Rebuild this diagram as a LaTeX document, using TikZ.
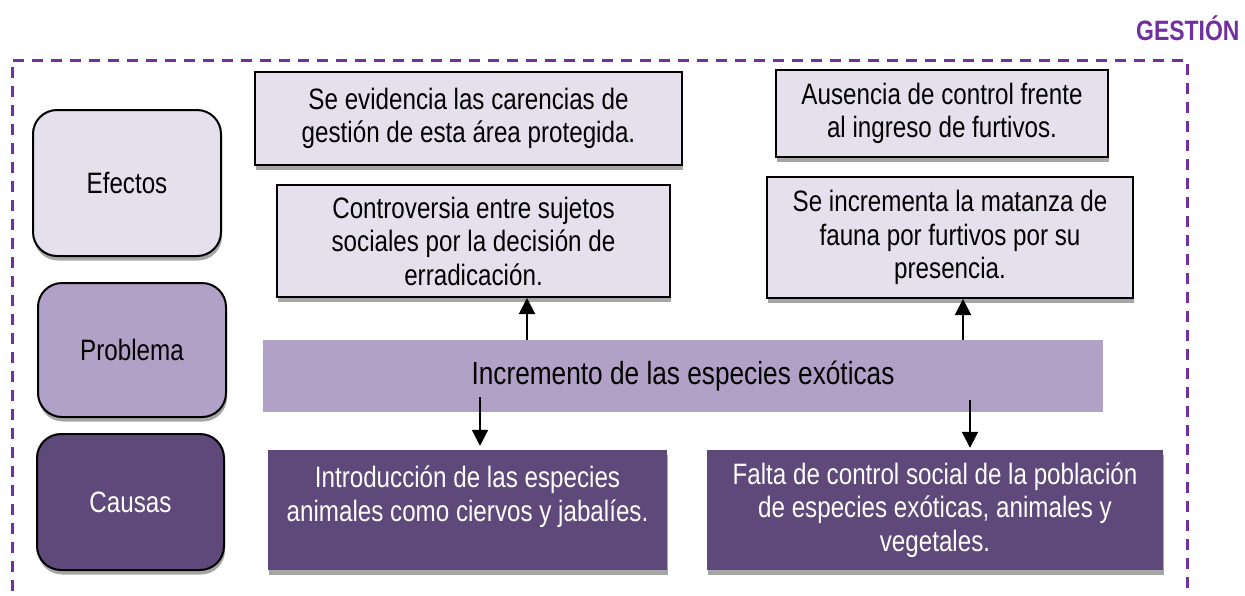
\documentclass[tikz,border=0pt]{standalone}
\usepackage{fontspec}
\setmainfont{Liberation Sans}[FakeStretch=0.82]
\usepackage{xcolor}
\usepackage{tikz}
\usetikzlibrary{positioning, arrows.meta, calc, shadows}
\definecolor{gestpurple}{HTML}{7030A0}
\definecolor{lilac}{HTML}{E5E0EC}
\definecolor{midlilac}{HTML}{B2A1C7}
\definecolor{darklilac}{HTML}{5F497A}
\definecolor{shadowgray}{HTML}{A6A6A6}

\tikzset{
  boxshadow/.style={drop shadow={shadow xshift=1pt, shadow yshift=-4.5pt,
                    fill=shadowgray, opacity=1}},
  rowlabel/.style={draw=black, line width=2pt, rounded corners=24pt, boxshadow,
                   inner sep=0pt, font=\fontsize{29.5}{33.5}\selectfont},
  effectbox/.style={fill=lilac, draw=black, line width=2pt, boxshadow,
                    inner sep=0pt, align=center, font=\fontsize{29.5}{33.5}\selectfont},
  causebox/.style={fill=darklilac, text=white, boxshadow,
                   inner sep=0pt, align=center, font=\fontsize{29.5}{33.5}\selectfont},
  arr/.style={line width=2pt, -{Triangle[length=16pt, width=16pt]}},
}

\begin{document}
\begin{tikzpicture}[x=1pt, y=-1pt]
  \useasboundingbox (0,0) rectangle (1245,595);

  % frame and title
  \draw[gestpurple, line width=3pt, dash pattern=on 11pt off 8pt]
    (12,610) -- (12,60) -- (1187,60) -- (1187,610);
  \node[anchor=east, text=gestpurple, font=\fontsize{28}{33}\selectfont\bfseries]
    (title) at (1243,28) {GESTIÓN};

  % row labels
  \node[rowlabel, fill=lilac, minimum width=188pt, minimum height=146pt]
    (efectos) at (127,183) {Efectos};
  \node[rowlabel, fill=midlilac, minimum width=188pt, minimum height=134pt]
    (problema) at (132,350) {Problema};
  \node[rowlabel, fill=darklilac, text=white, minimum width=187pt, minimum height=136pt]
    (causas) at (130.5,502) {Causas};

  % effects
  \node[effectbox, minimum width=427pt, minimum height=93pt] (evid) at (468.5,118.5)
    {Se evidencia las carencias de\\gestión de esta área protegida.};
  \node[effectbox, minimum width=332pt, minimum height=87pt] (ausencia) at (942,113.5)
    {Ausencia de control frente\\al ingreso de furtivos.};
  \node[effectbox, minimum width=393pt, minimum height=112pt] (contro) at (473.5,241)
    {Controversia entre sujetos\\sociales por la decisión de\\erradicación.};
  \node[effectbox, minimum width=366pt, minimum height=121pt] (matanza) at (950,237.5)
    {Se incrementa la matanza de\\fauna por furtivos por su\\presencia.};

  % problem
  \node[fill=midlilac, inner sep=0pt, minimum width=840pt, minimum height=72pt,
        font=\fontsize{32}{38}\selectfont] (incr) at (683,376)
    {Incremento de las especies exóticas};

  % causes
  \node[causebox, minimum width=399pt, minimum height=120pt, text depth=33pt]
    (intro) at (467.5,510)
    {Introducción de las especies\\animales como ciervos y jabalíes.};
  \node[causebox, minimum width=456pt, minimum height=120pt] (falta) at (935,510)
    {Falta de control social de la población\\de especies exóticas, animales y\\vegetales.};

  % arrows
  \coordinate (upL) at (527,340);
  \coordinate (upR) at (963,340);
  \coordinate (dnL) at (480,397);
  \coordinate (dnR) at (970,400);
  \draw[arr] (upL) -- (upL |- contro.south);
  \draw[arr] (upR) -- (upR |- matanza.south);
  \draw[arr] (dnL) -- ([yshift=4pt]dnL |- intro.north);
  \draw[arr] (dnR) -- ([yshift=2pt]dnR |- falta.north);
\end{tikzpicture}
\end{document}
